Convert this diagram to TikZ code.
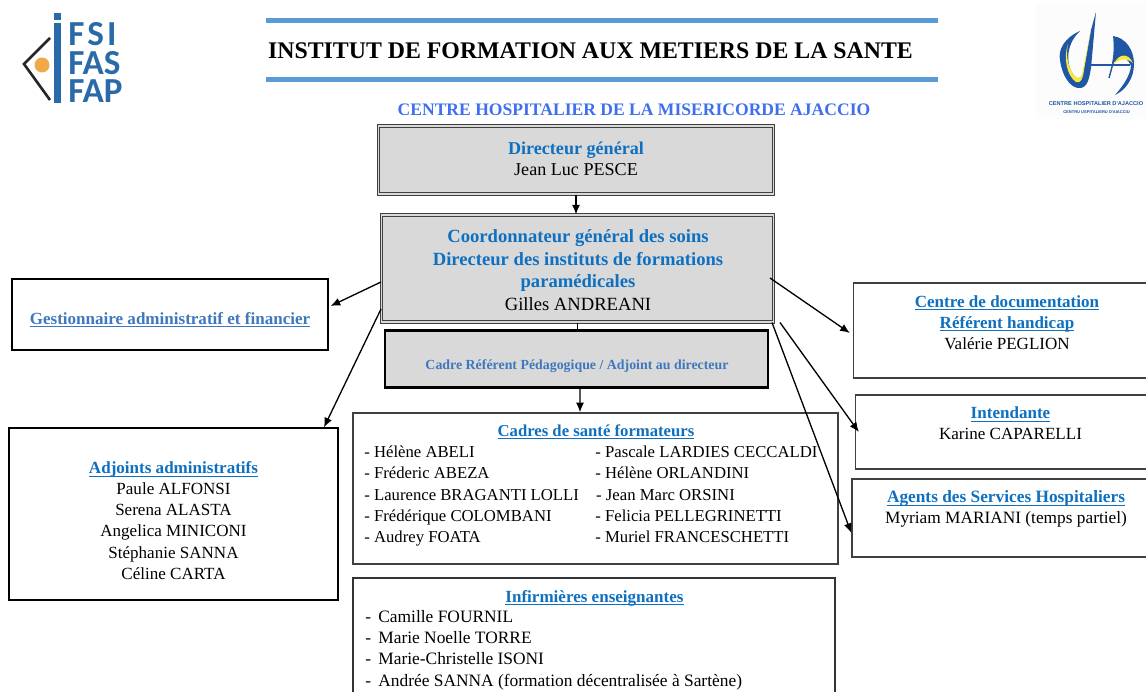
\documentclass[tikz,border=0pt]{standalone}
\usepackage{fontspec}
\setmainfont{Liberation Serif}
\newfontfamily\logofont{Carlito}
\newfontfamily\hospfont{Liberation Sans}
\usepackage{tikz}
\usetikzlibrary{arrows.meta}

\definecolor{titleblue}{HTML}{0F70C0}
\definecolor{paleblue}{HTML}{3E78BE}
\definecolor{headblue}{HTML}{3F6FF0}
\definecolor{barblue}{HTML}{5B9BD5}
\definecolor{boxgrey}{HTML}{D9D9D9}
\definecolor{edgegrey}{HTML}{404040}
\definecolor{logoblue}{HTML}{2A6AA8}
\definecolor{logoorange}{HTML}{F0A848}
\definecolor{hospblue}{HTML}{1F56A5}
\definecolor{hospyellow}{HTML}{F6E83C}

\newcommand{\boxhead}[1]{\textcolor{titleblue}{\bfseries #1}}
\newcommand{\linkrule}[1]{\bfseries\setbox0\hbox{#1}\rlap{\rule[-1.7pt]{\wd0}{0.45pt}}\box0}
\newcommand{\linkhead}[1]{\textcolor{titleblue}{\linkrule{#1}}}
\newcommand{\dashitem}{\makebox[0.26cm][l]{-}}

\tikzset{
  doublebox/.style={draw=edgegrey, fill=boxgrey, double=boxgrey, double distance=0.9pt, line width=0.6pt, inner sep=0pt},
  plainbox/.style={draw=edgegrey, fill=white, line width=0.8pt, inner sep=0pt},
  boxtext/.style={align=center, inner sep=0pt, font=\fontsize{9.7}{12.07}\selectfont, execute at begin node=\strut, execute at end node=\strut},
  listtext/.style={align=left, anchor=west, inner sep=0pt, font=\fontsize{9.5}{12.07}\selectfont, execute at begin node=\strut, execute at end node=\strut},
  link/.style={line width=0.75pt},
  arrowlink/.style={link, -{Latex[length=5.5pt,width=4.6pt]}},
  logotext/.style={anchor=base west, inner sep=0pt, text=logoblue, font=\logofont\bfseries\fontsize{20}{20}\selectfont, text height=13pt, text depth=0pt}
}

\begin{document}
\begin{tikzpicture}[x=0.02cm, y=-0.02cm]
\useasboundingbox (0,0) rectangle (1146,692);

% left logo
\fill[logoblue] (54,23) rectangle (61,103);
\fill[logoblue] (54,13) rectangle (61,20);
\draw[line width=1.5pt, black!85] (50,38) -- (24,64) -- (50,100);
\fill[logoorange] (42,65) circle (7.5);
\node[logotext] (fsi) at (68,46) {F\hspace{1.6pt}S\hspace{1.8pt}I};
\node[logotext] (fas) at (68,75) {FAS};
\node[logotext] (fap) at (68,103) {FAP};

% right logo
\fill[black!1] (1036,3) rectangle (1146,119);
\fill[hospblue] (1080,31) .. controls (1064,38) and (1058,50) .. (1060,60) .. controls (1062,76) and (1070,87) .. (1078,88) .. controls (1087,89) and (1089,80) .. (1091,68) -- (1096,12) -- (1091,30) -- (1084,68) .. controls (1083,78) and (1080,82) .. (1076,78) .. controls (1066,68) and (1064,46) .. (1080,31);
\fill[hospyellow] (1068,44) .. controls (1063,58) and (1067,76) .. (1076,82) .. controls (1081,84) and (1083,78) .. (1084,70) -- (1091,30) -- (1086,55) -- (1082,74) .. controls (1080,80) and (1076,78) .. (1073,74) .. controls (1067,64) and (1066,54) .. (1068,44);
\fill[hospblue] (1113,36) .. controls (1126,38) and (1134,50) .. (1134,64) .. controls (1134,78) and (1126,90) .. (1115,95) .. controls (1123,86) and (1130,76) .. (1131,66) .. controls (1128,58) and (1122,56) .. (1118,60) -- (1112,63) .. controls (1114,54) and (1114,44) .. (1113,36);
\fill[hospyellow] (1114,64) .. controls (1118,54) and (1128,52) .. (1133,63) .. controls (1127,58) and (1120,58) .. (1114,64);
\draw[hospblue, line width=0.6pt] (1090,65) -- (1130,65);
\draw[hospblue, line width=0.8pt] (1115,56) -- (1109,78);
\node[inner sep=0pt, text=hospblue] (hospfr) at (1096,104) {\hospfont\bfseries\fontsize{3.2}{4}\selectfont CENTRE HOSPITALIER D'AJACCIO};
\node[inner sep=0pt, text=hospblue] (hospco) at (1096.5,112) {\hospfont\bfseries\fontsize{2.3}{3}\selectfont CENTRU USPITALIERU D'AIACCIU};

% header
\fill[barblue] (266,18) rectangle (938,23);
\fill[barblue] (266,77) rectangle (938,82);
\node[inner sep=0pt] (title) at (590.5,51) {\bfseries\fontsize{13.56}{16}\selectfont INSTITUT DE FORMATION AUX METIERS DE LA SANTE};
\node[inner sep=0pt, text=headblue] (subtitle) at (634,110) {\bfseries\fontsize{10}{13}\selectfont CENTRE HOSPITALIER DE LA MISERICORDE AJACCIO};

% boxes
\node[doublebox, minimum width=7.9cm, minimum height=1.36cm] (dirgen) at (576,160) {};
\node[doublebox, minimum width=7.84cm, minimum height=2.14cm] (soins) at (577.5,268.5) {};
\node[draw=black, fill=boxgrey, line width=1.5pt, inner sep=0pt, minimum width=7.66cm, minimum height=1.14cm] (cadre) at (576.5,359) {};
\node[plainbox, draw=black, line width=0.7pt, minimum width=6.32cm, minimum height=1.42cm] (gest) at (170,314.5) {};
\node[plainbox, draw=black, line width=0.7pt, minimum width=6.58cm, minimum height=3.44cm] (adj) at (173.5,514) {};
\node[plainbox, minimum width=9.7cm, minimum height=3.02cm] (cadres) at (595.5,488.5) {};
\node[plainbox, draw=black!80, minimum width=9.64cm, minimum height=2.88cm] (infirm) at (594,650) {};
\node[plainbox, minimum width=6.14cm, minimum height=1.9cm] (doc) at (1007,330.5) {};
\node[plainbox, minimum width=6.1cm, minimum height=1.48cm] (intend) at (1008,432) {};
\node[plainbox, minimum width=6.16cm, minimum height=1.56cm] (agents) at (1006,518) {};

% texts
\node[boxtext, font=\fontsize{10.3}{12.5}\selectfont] (dirgentext) at (576,162) {\boxhead{Directeur général}\\Jean Luc PESCE};
\node[boxtext, font=\fontsize{10.6}{13}\selectfont] (soinstext) at (578,273.5) {\boxhead{Coordonnateur général des soins}\\\boxhead{Directeur des instituts de formations}\\\boxhead{paramédicales}\\Gilles ANDREANI};
\node[inner sep=0pt, text=paleblue] (cadretext) at (577,366) {\bfseries\fontsize{7.9}{10}\selectfont Cadre Référent Pédagogique / Adjoint au directeur};
\node[boxtext] (gesttext) at (170,320) {\textcolor{paleblue}{\linkrule{Gestionnaire administratif et financier}}};
\node[boxtext] (adjtext) at (173.5,523.5) {\linkhead{Adjoints administratifs}\\Paule ALFONSI\\Serena ALASTA\\Angelica MINICONI\\Stéphanie SANNA\\Céline CARTA};
\node[boxtext, font=\fontsize{9.5}{12.07}\selectfont] (cadrestitle) at (596,432) {\linkhead{Cadres de santé formateurs}};
\node[listtext] (cadresleft) at (364,497.5) {- Hélène ABELI\\- Fréderic ABEZA\\- Laurence BRAGANTI LOLLI\\- Frédérique COLOMBANI\\- Audrey FOATA};
\node[listtext] (cadresright) at (595,497.5) {- Pascale LARDIES CECCALDI\\- Hélène ORLANDINI\\\hspace{0.5pt}- Jean Marc ORSINI\\- Felicia PELLEGRINETTI\\- Muriel FRANCESCHETTI};
\node[boxtext] (infirmtitle) at (594.5,598) {\linkhead{Infirmières enseignantes}};
\node[listtext, font=\fontsize{9.9}{12.07}\selectfont] (infirmlist) at (365,651.5) {\dashitem Camille FOURNIL\\\dashitem Marie Noelle TORRE\\\dashitem Marie-Christelle ISONI\\\dashitem Andrée SANNA (formation décentralisée à Sartène)};
\node[boxtext] (doctext) at (1007,325.5) {\linkhead{Centre de documentation}\\\linkhead{Référent handicap}\\Valérie PEGLION};
\node[boxtext] (intendtext) at (1010.5,426.5) {\linkhead{Intendante}\\Karine CAPARELLI};
\node[boxtext, font=\fontsize{9.85}{12.07}\selectfont] (agentstext) at (1006,510.5) {\linkhead{Agents des Services Hospitaliers}\\Myriam MARIANI (temps partiel)};

% connectors
\draw[arrowlink] (dirgen.south) -- (soins.north -| dirgen.south);
\draw[link] (soins.south) -- (cadre.north -| soins.south);
\draw[arrowlink] ([xshift=0.07cm]cadre.south) -- ([xshift=-0.31cm]cadres.north);
\draw[arrowlink] ([yshift=-0.27cm]soins.west) -- ([xshift=0.04cm,yshift=0.17cm]gest.east);
\draw[arrowlink] ([yshift=-0.81cm]soins.west) -- ([xshift=3.01cm]adj.north);
\draw[arrowlink] ([xshift=-0.08cm,yshift=-0.19cm]soins.east) -- ([xshift=-0.06cm,yshift=-0.05cm]doc.west);
\draw[arrowlink] ([xshift=0.12cm]soins.south east) -- ([xshift=0.08cm]intend.west);
\draw[arrowlink] ([xshift=-0.04cm]soins.south east) -- ([yshift=-0.3cm]agents.west);
\end{tikzpicture}
\end{document}
